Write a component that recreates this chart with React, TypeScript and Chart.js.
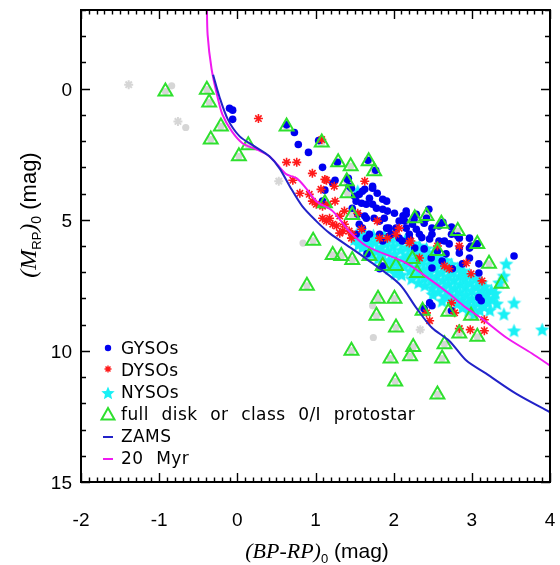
import React, { useEffect, useRef } from 'react';
import { Chart, registerables } from 'chart.js';
Chart.register(...registerables);

// ---- axis ticks ----
const xTickValues = [-2, -1, 0, 1, 2, 3, 4];
const yTickValues = [0, 5, 10, 15];

// ---- model curves ----
const zamsCurve: [number, number][] = [
  [-0.31, -0.53], [-0.23, 0.3], [-0.12, 1.18], [0.03, 1.82], [0.22, 2.2], [0.41, 2.58], [0.54, 3.04],
  [0.67, 3.72], [0.83, 4.48], [1.01, 5.05], [1.18, 5.51], [1.47, 6.11], [1.65, 6.49], [2.07, 7.44],
  [2.29, 8.36], [2.49, 9.12], [2.71, 9.61], [2.93, 10.37], [3.18, 10.86], [3.56, 11.62], [4.0, 12.34],
];
const myr20Curve: [number, number][] = [
  [-0.39, -3.3], [-0.38, -2.05], [-0.33, -0.76], [-0.26, 0.23], [-0.19, 0.99], [-0.07, 1.63], [0.07, 2.09],
  [0.25, 2.32], [0.41, 2.58], [0.51, 2.89], [0.63, 3.27], [0.76, 3.42], [0.88, 3.8], [1.01, 4.29],
  [1.22, 4.67], [1.43, 5.43], [1.65, 6.0], [2.16, 6.65], [2.49, 7.33], [2.71, 7.82], [2.93, 8.36],
  [3.13, 8.77], [3.44, 9.49], [3.77, 10.1], [4.0, 10.56],
];

// ---- sources ----
const gysos: [number, number][] = [
  [-0.1, 0.75], [-0.06, 0.82], [-0.06, 1.17], [0.63, 1.38], [0.73, 1.67], [0.78, 2.13], [0.91, 2.43], [1.04, 1.98],
  [1.09, 3.0], [1.25, 3.49], [1.28, 2.81], [1.67, 2.73], [1.77, 3.11], [1.41, 3.46], [1.46, 3.8], [1.12, 3.87],
  [1.22, 3.61], [1.09, 4.29], [2.45, 4.6], [3.54, 6.38],
  [1.42, 3.42], [1.43, 3.72], [1.63, 3.84], [1.73, 3.8], [1.79, 3.99], [1.86, 4.22], [1.52, 4.29], [1.65, 4.41],
  [1.78, 4.56], [1.92, 4.67], [2.16, 4.79], [2.29, 4.79], [2.07, 5.05], [2.24, 5.17], [2.42, 4.94], [2.58, 5.24],
  [2.74, 5.55], [2.84, 5.7], [2.97, 5.7], [2.99, 6.0], [2.65, 5.81], [2.49, 5.55], [2.33, 5.55], [2.2, 5.55],
  [1.94, 5.32], [1.82, 5.05], [1.65, 4.94], [1.54, 4.79], [1.47, 4.56], [1.56, 4.03], [1.69, 4.18], [1.97, 5.55],
  [2.07, 5.7], [1.86, 5.81], [1.69, 5.55], [1.6, 5.32],
  [2.12, 4.85], [2.26, 4.98], [2.29, 5.36], [2.39, 5.13], [2.49, 5.32], [2.63, 5.1], [2.74, 5.28], [2.82, 5.62],
  [3.07, 5.92], [2.97, 6.08], [2.84, 6.08], [2.71, 5.92], [2.58, 5.81], [2.46, 5.73], [2.36, 5.68], [2.2, 5.7],
  [2.56, 6.19], [2.67, 6.3], [2.84, 6.27], [2.97, 6.46], [3.09, 6.68], [2.62, 6.57], [2.48, 6.46], [2.88, 6.68],
  [3.09, 7.03], [2.16, 5.32], [2.11, 5.81], [2.27, 6.08], [2.39, 6.11], [2.49, 6.84], [2.75, 6.87],
  [1.5, 4.1], [1.6, 3.91], [1.73, 3.72], [1.91, 4.29], [1.86, 4.6], [1.73, 4.41], [1.59, 4.37], [1.63, 4.86],
  [1.75, 4.94], [1.88, 4.94], [2.01, 4.75], [2.14, 5.05], [2.03, 5.32], [1.91, 5.32], [1.82, 5.55], [1.56, 5.17],
  [1.52, 5.55], [1.65, 5.7], [1.94, 5.62], [2.16, 4.67],
  [1.66, 6.3], [1.86, 6.76], [1.82, 6.87], [2.39, 8.39], [2.46, 8.17], [2.49, 8.28], [2.74, 8.47], [3.09, 7.97], [3.12, 8.09],
];
const dysos: [number, number][] = [
  [0.27, 1.14], [0.63, 2.81], [0.76, 2.81], [0.71, 3.49], [0.96, 3.23], [0.8, 3.99], [0.92, 4.03], [1.01, 4.41],
  [1.07, 3.84], [1.14, 3.49], [1.25, 4.29], [1.37, 4.67], [1.08, 1.94], [1.63, 3.53], [1.54, 4.75], [1.79, 5.05],
  [1.09, 4.94], [1.22, 5.17], [1.35, 5.43], [1.18, 4.94], [1.14, 5.05], [1.27, 5.24], [1.47, 5.55], [0.96, 4.29],
  [1.09, 4.48], [1.16, 4.41], [1.12, 3.46], [1.24, 3.72], [2.03, 5.55], [2.2, 5.89], [1.82, 5.7], [1.31, 4.86],
  [1.37, 5.17], [1.43, 5.43], [1.31, 5.51], [1.59, 5.36], [1.92, 5.7], [1.46, 5.7], [2.07, 5.32], [2.22, 5.81],
  [2.33, 6.46], [2.56, 6.0], [2.84, 6.0], [2.65, 6.76], [2.71, 6.87], [2.99, 7.06], [3.13, 7.33], [2.93, 6.65],
  [2.42, 8.55], [2.46, 8.85], [2.78, 8.55], [2.84, 9.15], [2.98, 9.19], [3.16, 9.23], [3.16, 8.81], [2.74, 8.17],
];
const nysos: [number, number][] = [
  [1.5, 5.75], [1.53, 5.55], [1.55, 5.95], [1.57, 5.7], [1.6, 6.05], [1.62, 5.5], [1.64, 5.85], [1.54, 3.91],
  [1.66, 6.15], [1.68, 5.65], [1.7, 5.95], [1.72, 6.3], [1.74, 5.6], [1.76, 5.85], [1.78, 6.2], [1.8, 6.5],
  [1.82, 5.75], [1.84, 6.05], [1.86, 6.35], [1.88, 5.6], [1.9, 5.9], [1.92, 6.2], [1.94, 6.55], [1.95, 6.85],
  [1.97, 5.7], [1.99, 6.0], [2.01, 6.3], [2.03, 6.6], [2.05, 6.9], [2.07, 5.85], [2.09, 6.15], [2.1, 7.1], [2.02, 7.05],
  [2.12, 6.45], [2.13, 6.75], [2.15, 5.75], [2.17, 6.05], [2.18, 6.35], [2.2, 6.65], [2.21, 6.95], [2.23, 7.25], [2.24, 5.9],
  [2.26, 6.2], [2.27, 6.5], [2.29, 6.8], [2.3, 7.1], [2.32, 7.4], [2.33, 6.0], [2.35, 6.3], [2.36, 6.6], [2.38, 6.9], [2.39, 7.2], [2.4, 7.5],
  [2.42, 6.1], [2.43, 6.4], [2.45, 6.7], [2.46, 7.0], [2.48, 7.3], [2.49, 7.6], [2.51, 6.25], [2.52, 6.55], [2.53, 6.85], [2.55, 7.15], [2.55, 7.45], [2.5, 7.85],
  [2.57, 7.75], [2.58, 6.4], [2.6, 6.7], [2.61, 7.0], [2.63, 7.3], [2.64, 7.6], [2.66, 7.9], [2.67, 6.55], [2.68, 6.85], [2.7, 7.15], [2.7, 7.45], [2.62, 8.1],
  [2.72, 7.75], [2.73, 8.05], [2.74, 6.7], [2.76, 7.0], [2.77, 7.3], [2.78, 7.6], [2.8, 7.9], [2.81, 8.2], [2.82, 6.85], [2.84, 7.15], [2.85, 7.45], [2.85, 7.75],
  [2.87, 8.05], [2.88, 8.35], [2.89, 6.95], [2.91, 7.25], [2.92, 7.55], [2.93, 7.85], [2.95, 8.15], [2.96, 8.45], [2.97, 7.1], [2.98, 7.4], [3.0, 7.7], [3.0, 8.0],
  [3.02, 8.3], [3.03, 8.6], [3.05, 7.25], [3.06, 7.55], [3.08, 7.85], [3.09, 8.15], [3.1, 8.45], [3.12, 7.4], [3.13, 7.7], [3.15, 8.0], [3.15, 8.3],
  [3.17, 7.55], [3.19, 7.85], [3.21, 8.15], [3.23, 8.45], [3.25, 7.7], [3.27, 8.0], [3.3, 7.8], [3.32, 8.2], [3.35, 7.4],
  [3.44, 6.68], [3.41, 7.14], [3.54, 8.17], [3.41, 8.6], [3.54, 9.23], [3.9, 9.19],
];
const fullDisk: [number, number][] = [
  [-0.92, 0.11], [-0.39, 0.04], [-0.36, 0.53], [-0.21, 1.44], [-0.34, 1.94], [0.14, 2.16], [0.02, 2.58], [0.63, 1.44],
  [1.08, 2.05], [1.29, 2.81], [1.45, 2.96], [1.68, 2.77], [1.75, 3.15], [1.4, 3.53], [1.41, 3.99], [1.47, 4.82],
  [1.12, 4.37], [0.97, 5.8], [1.22, 6.34], [1.33, 6.38], [1.47, 6.53], [0.89, 7.52], [1.8, 8.01], [2.01, 8.01],
  [1.78, 8.66], [2.03, 9.11], [1.46, 9.99], [1.96, 10.29], [2.21, 10.2], [2.02, 11.17], [1.86, 6.76], [1.69, 6.38],
  [2.25, 9.85], [2.62, 10.29], [2.65, 9.75], [2.56, 11.66], [2.84, 9.34], [3.07, 9.46], [2.37, 8.47], [2.7, 8.51],
  [3.38, 7.44], [3.22, 6.68], [2.99, 8.66], [2.3, 7.03], [2.27, 4.94], [2.42, 4.86], [2.61, 5.15], [2.82, 5.43],
  [3.07, 5.92], [2.56, 6.19], [2.24, 6.5], [2.03, 6.76],
];
const grayDots: [number, number][] = [
  [-0.84, -0.11], [-0.66, 1.48], [0.84, 5.89], [1.79, 7.97], [1.73, 8.28], [1.74, 9.49],
];
const grayStars: [number, number][] = [
  [-1.39, -0.15], [-0.76, 1.25], [0.53, 3.53], [2.34, 9.19],
];

const toPts = (a: [number, number][]) => a.map(([x, y]) => ({ x, y }));

const C_BLUE = '#0000f0';
const C_RED = '#ff1a1a';
const C_CYAN = '#19f0f5';
const C_GREEN = '#2ee02e';
const C_ZAMS = '#2222c8';
const C_MYR = '#f01af0';
const C_GRAY = '#d6d6d6';
const SANS = '"Liberation Sans", Arial, Helvetica, sans-serif';
const SERIF = '"Liberation Serif", "Times New Roman", serif';

function starPath(ctx: CanvasRenderingContext2D, cx: number, cy: number, ro: number, ri: number) {
  ctx.beginPath();
  for (let i = 0; i < 10; i++) {
    const r = i % 2 === 0 ? ro : ri;
    const a = -Math.PI / 2 + (i * Math.PI) / 5;
    const px = cx + r * Math.cos(a);
    const py = cy + r * Math.sin(a);
    if (i === 0) ctx.moveTo(px, py); else ctx.lineTo(px, py);
  }
  ctx.closePath();
}

function makeStar(size: number, color: string) {
  const c = document.createElement('canvas');
  c.width = size; c.height = size;
  const g = c.getContext('2d')!;
  g.fillStyle = color;
  starPath(g, size / 2, size / 2 + 0.5, size / 2, size / 4.4);
  g.fill();
  return c;
}

type Run = { text: string; font: string; dy?: number };
function drawRuns(ctx: CanvasRenderingContext2D, runs: Run[], cx: number, baseline: number) {
  let total = 0;
  for (const r of runs) { ctx.font = r.font; total += ctx.measureText(r.text).width; }
  let x = cx - total / 2;
  ctx.textAlign = 'left';
  ctx.textBaseline = 'alphabetic';
  for (const r of runs) {
    ctx.font = r.font;
    ctx.fillText(r.text, x, baseline + (r.dy || 0));
    x += ctx.measureText(r.text).width;
  }
}

export default function App() {
  const ref = useRef<HTMLCanvasElement>(null);
  useEffect(() => {
    const starImg = makeStar(15, C_CYAN);
    const legendStar = makeStar(14, C_CYAN);

    const decor = {
      id: 'decor',
      afterDraw(chart: any) {
        const ctx: CanvasRenderingContext2D = chart.ctx;
        const { left, right, top, bottom } = chart.chartArea;
        const xs = chart.scales.x;
        const ys = chart.scales.y;
        ctx.save();
        ctx.strokeStyle = '#000';
        ctx.lineWidth = 1.4;
        ctx.beginPath();
        for (let i = -20; i <= 40; i++) {
          const px = Math.round(xs.getPixelForValue(i / 10)) + 0.5;
          const len = i % 10 === 0 ? 9 : 4.5;
          ctx.moveTo(px, bottom); ctx.lineTo(px, bottom - len);
          ctx.moveTo(px, top); ctx.lineTo(px, top + len);
        }
        for (let v = -3; v <= 15; v++) {
          const py = Math.round(ys.getPixelForValue(v)) + 0.5;
          const len = v % 5 === 0 ? 9 : 5;
          ctx.moveTo(left, py); ctx.lineTo(left + len, py);
          ctx.moveTo(right, py); ctx.lineTo(right - len, py);
        }
        ctx.stroke();
        ctx.lineWidth = 2;
        ctx.strokeRect(left, top, right - left, bottom - top);

        // tick labels from the scales' own ticks
        ctx.fillStyle = '#000';
        ctx.font = `19px ${SANS}`;
        ctx.textBaseline = 'alphabetic';
        ctx.textAlign = 'center';
        xs.ticks.forEach((t: any) => ctx.fillText(String(t.value), xs.getPixelForValue(t.value), 526));
        ctx.textAlign = 'right';
        ys.ticks.forEach((t: any) => ctx.fillText(String(t.value), 72, ys.getPixelForValue(t.value) + 7));

        // axis titles
        drawRuns(ctx, [
          { text: '(BP-RP)', font: `italic 22px ${SERIF}` },
          { text: '0', font: `13px ${SANS}`, dy: 5 },
          { text: ' (mag)', font: `21px ${SANS}` },
        ], 317, 558);
        ctx.save();
        ctx.translate(36, 215);
        ctx.rotate(-Math.PI / 2);
        drawRuns(ctx, [
          { text: '(', font: `italic 24px ${SERIF}` },
          { text: 'M', font: `italic 24px ${SERIF}` },
          { text: 'RP', font: `13px ${SANS}`, dy: 5 },
          { text: ')', font: `italic 24px ${SERIF}` },
          { text: '0', font: `14px ${SANS}`, dy: 5 },
          { text: ' (mag)', font: `22px ${SANS}` },
        ], 0, 0);
        ctx.restore();

        // legend
        const mx = 108;
        const tx = 121;
        const rows = [349, 371, 393, 415, 437, 459];
        ctx.fillStyle = C_BLUE;
        ctx.beginPath(); ctx.arc(mx, rows[0] - 1, 3.2, 0, Math.PI * 2); ctx.fill();
        ctx.strokeStyle = C_RED; ctx.lineWidth = 1.4;
        ctx.beginPath();
        for (let k = 0; k < 4; k++) {
          const a = (k * Math.PI) / 4;
          ctx.moveTo(mx - 3.5 * Math.cos(a), rows[1] - 2 - 3.5 * Math.sin(a));
          ctx.lineTo(mx + 3.5 * Math.cos(a), rows[1] - 2 + 3.5 * Math.sin(a));
        }
        ctx.stroke();
        ctx.drawImage(legendStar, mx - 7, rows[2] - 7);
        ctx.strokeStyle = C_GREEN; ctx.lineWidth = 2;
        ctx.beginPath();
        ctx.moveTo(mx, rows[3] - 7); ctx.lineTo(mx + 6.5, rows[3] + 4.5); ctx.lineTo(mx - 6.5, rows[3] + 4.5); ctx.closePath();
        ctx.stroke();
        ctx.lineWidth = 2;
        ctx.strokeStyle = C_ZAMS;
        ctx.beginPath(); ctx.moveTo(mx - 5, rows[4]); ctx.lineTo(mx + 5, rows[4]); ctx.stroke();
        ctx.strokeStyle = C_MYR;
        ctx.beginPath(); ctx.moveTo(mx - 5, rows[5]); ctx.lineTo(mx + 5, rows[5]); ctx.stroke();

        ctx.fillStyle = '#000';
        ctx.font = `17px "DejaVu Sans", sans-serif`;
        (ctx as any).letterSpacing = '0.4px';
        (ctx as any).wordSpacing = '7px';
        ctx.textAlign = 'left';
        ctx.textBaseline = 'middle';
        const labels = ['GYSOs', 'DYSOs', 'NYSOs', 'full disk or class 0/I protostar', 'ZAMS', '20 Myr'];
        labels.forEach((t, i) => ctx.fillText(t, tx, rows[i] + 1));
        (ctx as any).wordSpacing = '0px';
        (ctx as any).letterSpacing = '0px';
        ctx.restore();
      },
    };

    const chart = new Chart(ref.current!, {
      type: 'scatter',
      data: {
        datasets: [
          { label: 'ZAMS', data: toPts(zamsCurve), showLine: true, borderColor: C_ZAMS, borderWidth: 2, pointRadius: 0, tension: 0.3 } as any,
          { label: '20 Myr', data: toPts(myr20Curve), showLine: true, borderColor: C_MYR, borderWidth: 2, pointRadius: 0, tension: 0.3 } as any,
          { label: 'full disk', data: toPts(fullDisk), pointStyle: 'triangle', pointRadius: 8, borderColor: C_GREEN, borderWidth: 2, backgroundColor: 'rgba(0,0,0,0)' },
          { label: 'DYSOs', data: toPts(dysos), pointStyle: 'star', pointRadius: 4.5, borderColor: C_RED, borderWidth: 1.6, backgroundColor: C_RED },
          { label: 'GYSOs', data: toPts(gysos), pointStyle: 'circle', pointRadius: 3.8, borderWidth: 0, backgroundColor: C_BLUE },
          { label: 'NYSOs', data: toPts(nysos), pointStyle: starImg as any, pointRadius: 7, borderWidth: 0, backgroundColor: C_CYAN },
          { label: 'under', data: toPts(fullDisk), pointStyle: 'circle', pointRadius: 3.6, borderWidth: 0, backgroundColor: C_GRAY },
          { label: 'grayDots', data: toPts(grayDots), pointStyle: 'circle', pointRadius: 3.6, borderWidth: 0, backgroundColor: C_GRAY },
          { label: 'grayStars', data: toPts(grayStars), pointStyle: 'star', pointRadius: 4.5, borderWidth: 2, borderColor: C_GRAY },
        ],
      },
      options: {
        responsive: false,
        animation: false,
        events: [],
        layout: { padding: { top: 8, right: 9, left: 0, bottom: 0 } },
        plugins: { legend: { display: false }, tooltip: { enabled: false } },
        scales: {
          x: {
            type: 'linear', min: -2, max: 4,
            grid: { display: false, drawTicks: false, tickLength: 0 },
            border: { display: false },
            afterBuildTicks: (s: any) => { s.ticks = xTickValues.map((v) => ({ value: v })); },
            afterFit: (s: any) => { s.height = 83; },
            ticks: { display: false },
          },
          y: {
            type: 'linear', min: -3, max: 15, reverse: true,
            grid: { display: false, drawTicks: false, tickLength: 0 },
            border: { display: false },
            afterBuildTicks: (s: any) => { s.ticks = yTickValues.map((v) => ({ value: v })); },
            afterFit: (s: any) => { s.width = 81; },
            ticks: { display: false },
          },
        },
      },
      plugins: [decor],
    } as any);
    return () => chart.destroy();
  }, []);
  return (
    <div style={{ position: 'absolute', left: 0, top: 0, width: 560, height: 565, background: '#fff' }}>
      <canvas ref={ref} width={560} height={565} style={{ display: 'block' }} />
    </div>
  );
}
